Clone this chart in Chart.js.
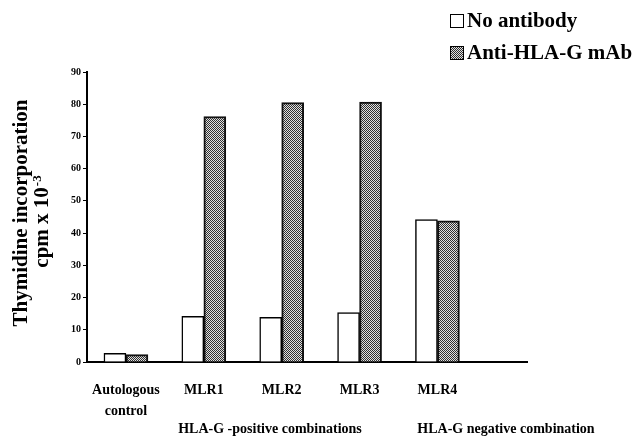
<!DOCTYPE html>
<html>
<head>
<meta charset="utf-8">
<script src="https://cdn.jsdelivr.net/npm/chart.js@4.4.0/dist/chart.umd.min.js"></script>
<style>
  html, body { margin: 0; padding: 0; background: #fff; }
  #wrap { width: 636px; height: 436px; position: relative; }
</style>
</head>
<body>
<div id="wrap"><canvas id="myChart" width="636" height="436"></canvas></div>
<script>
// ---------------------------------------------------------------- data section
var categories = ['Autologous control', 'MLR1', 'MLR2', 'MLR3', 'MLR4'];
var tickLabels = [['Autologous', 'control'], 'MLR1', 'MLR2', 'MLR3', 'MLR4'];
var noAntibody = [2.7, 14.2, 13.9, 15.3, 44.2];
var antiHLAG = [2.3, 76.2, 80.5, 80.7, 43.8];
var yTicks = [0, 10, 20, 30, 40, 50, 60, 70, 80, 90];
var groupLabels = ['HLA-G -positive combinations', 'HLA-G negative combination'];

var serif = '"Liberation Serif", "Times New Roman", serif';

// checker pattern like the scanned grey fill
function makePattern() {
    var c = document.createElement('canvas');
    c.width = 2; c.height = 2;
    var g = c.getContext('2d');
    g.fillStyle = '#e0e0e0';
    g.fillRect(0, 0, 2, 2);
    g.fillStyle = '#303030';
    g.fillRect(0, 0, 1, 1);
    g.fillRect(1, 1, 1, 1);
    return g.createPattern(c, 'repeat');
}
var greyFill = makePattern();

// y title with superscript, legend and group labels
var extras = {
    id: 'extras',
    afterDraw: function (chart) {
        var ctx = chart.ctx;
        var xs = chart.scales.x;
        ctx.save();
        ctx.fillStyle = '#000';

        // y title
        ctx.font = 'bold 21px ' + serif;
        ctx.textAlign = 'center';
        ctx.textBaseline = 'alphabetic';
        ctx.save();
        ctx.translate(27, 213);
        ctx.rotate(-Math.PI / 2);
        ctx.fillText('Thymidine incorporation', 0, 0);
        ctx.restore();

        ctx.save();
        ctx.translate(48, 222);
        ctx.rotate(-Math.PI / 2);
        ctx.textAlign = 'left';
        ctx.font = 'bold 21px ' + serif;
        var main = 'cpm x 10';
        var w1 = ctx.measureText(main).width;
        ctx.font = 'bold 13px ' + serif;
        var w2 = ctx.measureText('-3').width;
        var x0 = -(w1 + w2) / 2;
        ctx.font = 'bold 21px ' + serif;
        ctx.fillText(main, x0, 0);
        ctx.font = 'bold 13px ' + serif;
        ctx.fillText('-3', x0 + w1 + 1, -7);
        ctx.restore();

        // legend
        var items = chart.data.datasets;
        ctx.font = 'bold 21px ' + serif;
        ctx.textAlign = 'left';
        ctx.textBaseline = 'middle';
        for (var i = 0; i < items.length; i++) {
            var y = 21 + i * 32;
            ctx.fillStyle = items[i].backgroundColor;
            ctx.fillRect(450, y - 7, 13, 13);
            ctx.strokeStyle = '#000';
            ctx.lineWidth = 1;
            ctx.strokeRect(450.5, y - 6.5, 13, 13);
            ctx.fillStyle = '#000';
            ctx.fillText(items[i].label, 467, y + 1);
        }

        // group labels under the axis
        ctx.font = 'bold 14px ' + serif;
        ctx.textAlign = 'center';
        ctx.textBaseline = 'alphabetic';
        ctx.fillText(groupLabels[0], xs.getPixelForValue(1.85), 433);
        ctx.fillText(groupLabels[1], xs.getPixelForValue(4.88), 433);
        ctx.restore();
    }
};

const ctx = document.getElementById('myChart').getContext('2d');
const myChart = new Chart(ctx, {
    type: 'bar',
    data: {
        datasets: [{
            label: 'No antibody',
            data: noAntibody.map(function (v, i) { return { x: i, y: v }; }),
            backgroundColor: '#ffffff',
            borderColor: '#000000',
            borderWidth: 1.5
        }, {
            label: 'Anti-HLA-G mAb',
            data: antiHLAG.map(function (v, i) { return { x: i, y: v }; }),
            backgroundColor: greyFill,
            borderColor: '#111111',
            borderWidth: 2
        }]
    },
    options: {
        responsive: false,
        animation: false,
        barThickness: 22,
        layout: { padding: { top: 72, right: 109, bottom: 0, left: 0 } },
        plugins: {
            legend: { display: false },
            tooltip: { enabled: false }
        },
        scales: {
            x: {
                type: 'linear',
                min: -0.5,
                max: 5.15,
                offset: false,
                afterFit: function (s) { s.height = 74; },
                afterBuildTicks: function (s) {
                    s.ticks = categories.map(function (c, i) { return { value: i }; });
                },
                grid: { display: false, drawTicks: false, offset: false },
                border: { display: true, color: '#000', width: 2 },
                ticks: {
                    autoSkip: false,
                    maxRotation: 0,
                    padding: 18,
                    color: '#000',
                    font: { family: serif, size: 14, weight: 'bold', lineHeight: 1.5 },
                    callback: function (value, index) { return tickLabels[index]; }
                }
            },
            y: {
                min: 0,
                max: 90,
                afterFit: function (s) { s.width = 87; },
                afterBuildTicks: function (s) {
                    s.ticks = yTicks.map(function (v) { return { value: v }; });
                },
                grid: { drawOnChartArea: false, drawTicks: true, tickLength: 4, color: '#000' },
                border: { display: true, color: '#000', width: 2 },
                ticks: {
                    padding: 2,
                    color: '#000',
                    font: { family: serif, size: 10, weight: 'bold' }
                }
            }
        }
    },
    plugins: [extras]
});
</script>
</body>
</html>
